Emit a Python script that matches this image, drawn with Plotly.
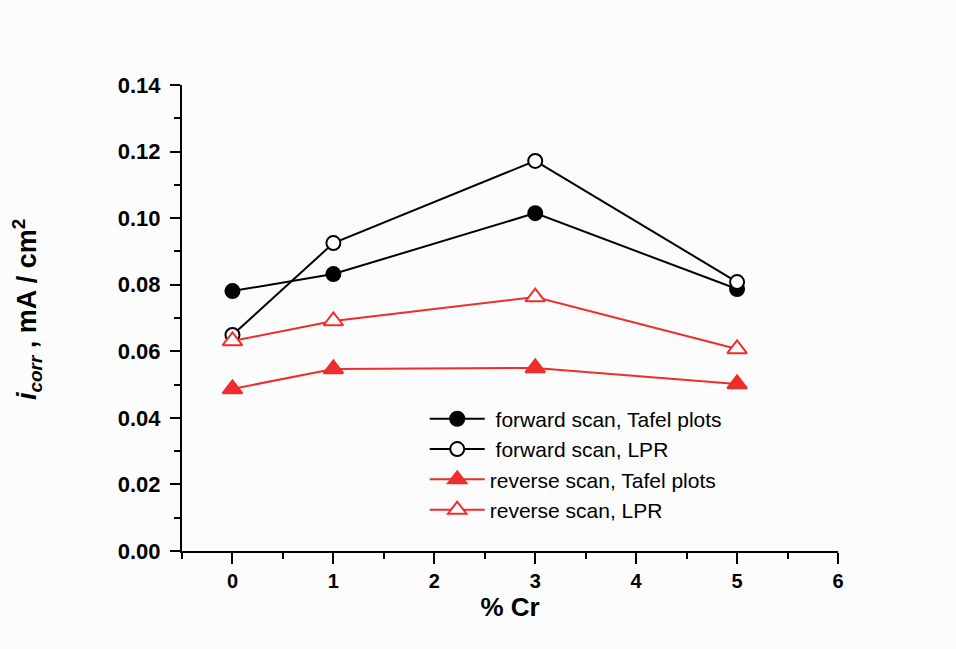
import plotly.graph_objects as go

cr = [0, 1, 3, 5]
fwd_tafel = [0.0781, 0.0832, 0.1015, 0.0787]
fwd_lpr = [0.0649, 0.0925, 0.1172, 0.0808]
rev_tafel = [0.0487, 0.0547, 0.0550, 0.0502]
rev_lpr = [0.0631, 0.0691, 0.0763, 0.0607]

names = [" forward scan, Tafel plots", " forward scan, LPR",
         "reverse scan, Tafel plots", "reverse scan, LPR"]
y_title = "<i>i</i><sub><i>corr</i></sub> , mA / cm<sup>2</sup>"
x_title = "% Cr"

RED = "#ee2d2d"
BG = "#fcfcfc"
fig = go.Figure()
series = [
    (fwd_tafel, names[0], "black", "circle", 14, True),
    (fwd_lpr, names[1], "black", "circle", 14, False),
    (rev_tafel, names[2], RED, "triangle-up", 17, True),
    (rev_lpr, names[3], RED, "triangle-up", 17, False),
]
for ys, nm, col, sym, sz, filled in series:
    fig.add_trace(go.Scatter(
        x=cr, y=ys, name=nm, mode="lines+markers",
        line=dict(color=col, width=2),
        marker=dict(symbol=sym, size=sz, color=col if filled else "white",
                    line=dict(color=col, width=2)),
    ))

fig.add_annotation(text=y_title, textangle=-90, xref="paper", yref="paper",
                   x=(27 - 182) / 656, y=(551 - 310) / 466, xanchor="center", yanchor="middle",
                   showarrow=False, font=dict(size=27, weight="bold", color="black"))

fig.update_layout(
    width=956, height=649,
    margin=dict(l=182, r=118, t=85, b=98),
    paper_bgcolor=BG, plot_bgcolor=BG,
    font=dict(family="Liberation Sans, Arial, sans-serif", color="black"),
    showlegend=True,
    legend=dict(x=0.37, y=0.327, xanchor="left", yanchor="top",
                bgcolor="rgba(0,0,0,0)", font=dict(size=21),
                tracegroupgap=0, itemwidth=55),
    xaxis=dict(range=[-0.5, 6], tickvals=[0, 1, 2, 3, 4, 5, 6],
               showgrid=False, zeroline=False, showline=True,
               linecolor="black", linewidth=2, ticks="outside", ticklen=11,
               tickwidth=2, tickcolor="black",
               minor=dict(dtick=0.5, ticks="outside", ticklen=6, tickwidth=2, tickcolor="black", tick0=0),
               tickfont=dict(size=20, weight="bold"),
               title=dict(text=x_title, font=dict(size=26, weight="bold"), standoff=7)),
    yaxis=dict(range=[0, 0.14], tickvals=[0, 0.02, 0.04, 0.06, 0.08, 0.10, 0.12, 0.14],
               tickformat=".2f",
               showgrid=False, zeroline=False, showline=True,
               linecolor="black", linewidth=2, ticks="outside", ticklen=10,
               tickwidth=2, tickcolor="black", ticklabelstandoff=5,
               minor=dict(dtick=0.01, ticks="outside", ticklen=6, tickwidth=2, tickcolor="black"),
               tickfont=dict(size=22, weight="bold")),
)

fig.write_html("out.html")
